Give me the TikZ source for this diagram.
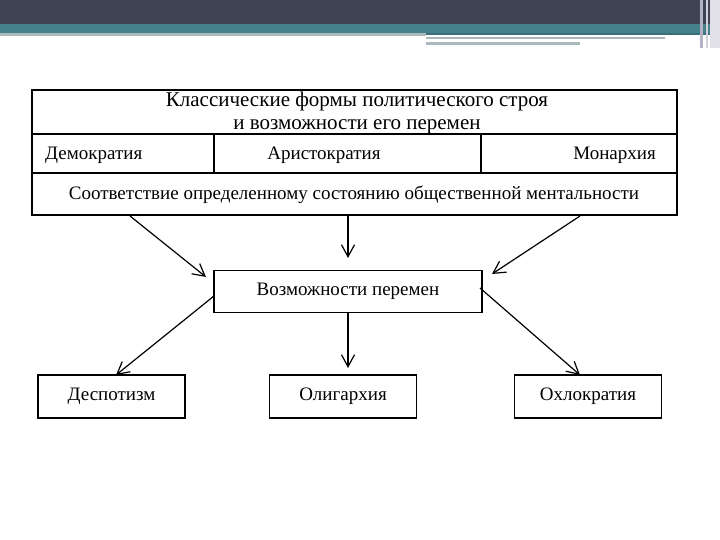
\documentclass[tikz,border=0pt]{standalone}
\usepackage{fontspec}
\setmainfont{Liberation Serif}
\usetikzlibrary{arrows.meta}
\definecolor{hdrdark}{HTML}{3F4455}
\definecolor{hdrteal}{HTML}{45818A}
\definecolor{hdrgray}{HTML}{A9B9BC}
\definecolor{hdrdteal}{HTML}{3D6F78}
\definecolor{hdrlav}{HTML}{B4B4C4}
\tikzset{
  frame/.style={draw=black, line width=1.7pt, inner sep=0pt},
  cellline/.style={draw=black, line width=1.7pt},
  lbl/.style={font=\fontsize{19}{21}\selectfont, inner sep=0pt},
  flow/.style={draw=black, line width=1.2pt, -{Straight Barb[length=12pt,width=13pt,line width=1.2pt]}},
  leaf/.style={frame, minimum width=147pt, minimum height=43pt, font=\fontsize{19}{21}\selectfont}
}
\begin{document}
\begin{tikzpicture}[x=1pt,y=-1pt]
\useasboundingbox (0,0) rectangle (720,540);
\fill[white] (0,0) rectangle (720,540);
% header band
\fill[hdrdark] (0,0) rectangle (720,24);
\fill[hdrteal] (0,24) rectangle (720,33);
\fill[hdrgray] (0,33) rectangle (426,36);
\fill[hdrdteal] (426,33) rectangle (720,35);
\fill[hdrgray] (426,37) rectangle (665,39);
\fill[hdrgray] (426,42) rectangle (580,45);
\fill[hdrlav] (700,0) rectangle (703,48);
\fill[hdrlav!60] (706,0) rectangle (708,48);
\fill[hdrlav!40] (710,0) rectangle (720,48);
% top table
\node[frame, minimum width=645pt, minimum height=44pt] (title) at (354.5,112) {};
\node[frame, minimum width=645pt, minimum height=39pt] (forms) at (354.5,153.5) {};
\node[frame, minimum width=645pt, minimum height=42pt] (corr) at (354.5,194) {};
\coordinate (d1t) at (214,134);
\coordinate (d1b) at (214,173);
\coordinate (d2t) at (481,134);
\coordinate (d2b) at (481,173);
\draw[cellline] (d1t) -- (d1b);
\draw[cellline] (d2t) -- (d2b);
\node[inner sep=0pt, font=\fontsize{21}{23}\selectfont, align=center] (titletext) at (357,113) {Классические формы политического строя\\и возможности его перемен};
\node[lbl, anchor=west] (demo) at (45,155) {Демократия};
\node[lbl] (aristo) at (324,155) {Аристократия};
\node[lbl, anchor=east] (monar) at (656,155) {Монархия};
\node[lbl] (corrtext) at (354,195) {Соответствие определенному состоянию общественной ментальности};
% middle box
\node[frame, minimum width=268pt, minimum height=42pt, font=\fontsize{19}{21}\selectfont] (change) at (348,291.5) {Возможности перемен};
% bottom boxes
\node[leaf] (desp) at (111.5,396.5) {Деспотизм};
\node[leaf] (olig) at (343,396.5) {Олигархия};
\node[leaf] (ochl) at (588,396.5) {Охлократия};
% arrows
\coordinate (s1) at (130,216);
\coordinate (e1) at (206,277);
\coordinate (s2) at (348,216);
\coordinate (e2) at (348,258);
\coordinate (s3) at (580,216);
\coordinate (e3) at (492,274);
\draw[flow] (s1) -- (e1);
\draw[flow] (s2) -- (e2);
\draw[flow] (s3) -- (e3);
\coordinate (l1) at (214,296);
\coordinate (l3) at (480,288);
\coordinate (t1) at (116,375);
\coordinate (t2) at (348,368);
\coordinate (t3) at (580,375);
\draw[flow] (l1) -- (t1);
\draw[flow] (change.south -| t2) -- (t2);
\draw[flow] (l3) -- (t3);
\end{tikzpicture}
\end{document}
